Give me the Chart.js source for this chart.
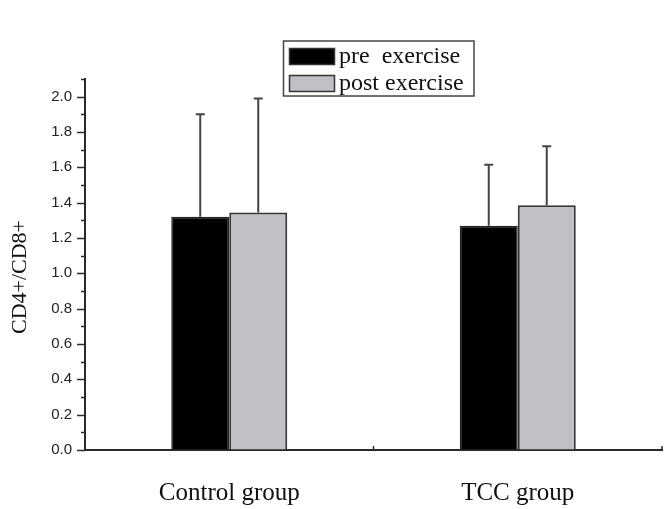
<!DOCTYPE html>
<html>
<head>
<meta charset="utf-8">
<script src="https://cdn.jsdelivr.net/npm/chart.js@4"></script>
<style>
  body { margin: 0; background: #ffffff; }
  #wrap { width: 667px; height: 509px; }
</style>
</head>
<body>
<div id="wrap"><canvas id="myChart" width="667" height="509"></canvas></div>
<script>
// data
var groups = ["Control group", "TCC group"];
var seriesNames = ["pre  exercise", "post exercise"];
var yTitle = "CD4+/CD8+";
var preVals = [1.32, 1.27];
var postVals = [1.345, 1.385];
var preErrTop = [1.90, 1.615];
var postErrTop = [1.99, 1.72];
var yTicks = [0.0, 0.2, 0.4, 0.6, 0.8, 1.0, 1.2, 1.4, 1.6, 1.8, 2.0];
var yMinorTicks = [0.1, 0.3, 0.5, 0.7, 0.9, 1.1, 1.3, 1.5, 1.7, 1.9, 2.1];

var axisColor = "#2a2a2a";

// error bars, axis ticks, y title and the boxed legend
var extras = {
    id: "extras",
    afterDatasetsDraw: function (chart) {
        var ctx = chart.ctx;
        var y = chart.scales.y;
        var tops = [preErrTop, postErrTop];
        ctx.save();
        ctx.strokeStyle = "#444";
        ctx.lineWidth = 2;
        for (var i = 0; i < 2; i++) {
            var meta = chart.getDatasetMeta(i);
            meta.data.forEach(function (bar, j) {
                var yt = y.getPixelForValue(tops[i][j]);
                ctx.beginPath();
                ctx.moveTo(bar.x, bar.y);
                ctx.lineTo(bar.x, yt);
                ctx.moveTo(bar.x - 4.5, yt);
                ctx.lineTo(bar.x + 4.5, yt);
                ctx.stroke();
            });
        }
        ctx.restore();
    },
    afterDraw: function (chart) {
        var ctx = chart.ctx;
        var y = chart.scales.y;
        var x = chart.scales.x;
        var area = chart.chartArea;
        ctx.save();
        ctx.strokeStyle = axisColor;
        ctx.lineWidth = 1.5;
        // y ticks, outward
        yTicks.forEach(function (v) {
            var p = Math.round(y.getPixelForValue(v)) + 0.5;
            ctx.beginPath();
            ctx.moveTo(area.left - 8, p);
            ctx.lineTo(area.left, p);
            ctx.stroke();
        });
        yMinorTicks.forEach(function (v) {
            var p = Math.round(y.getPixelForValue(v)) + 0.5;
            ctx.beginPath();
            ctx.moveTo(area.left - 4, p);
            ctx.lineTo(area.left, p);
            ctx.stroke();
        });
        // x ticks between categories, inward
        for (var k = 1; k <= groups.length; k++) {
            var px = x.getPixelForValue(k - 0.5);
            ctx.beginPath();
            ctx.moveTo(px, area.bottom);
            ctx.lineTo(px, area.bottom - 4);
            ctx.stroke();
        }

        // y title
        ctx.save();
        ctx.translate(20, 277);
        ctx.rotate(-Math.PI / 2);
        ctx.font = "22px 'Liberation Serif', serif";
        ctx.fillStyle = "#111";
        ctx.textAlign = "center";
        ctx.textBaseline = "middle";
        ctx.fillText(yTitle, 0, 0);
        ctx.restore();

        // legend
        ctx.lineWidth = 1.5;
        ctx.strokeStyle = "#444";
        ctx.strokeRect(283.5, 41, 190.5, 55);
        var fills = ["#000000", "#c0c1c5"];
        ctx.font = "24px 'Liberation Serif', serif";
        ctx.textBaseline = "middle";
        for (var s = 0; s < 2; s++) {
            var ry = 48.5 + s * 27;
            ctx.fillStyle = fills[s];
            ctx.fillRect(289.5, ry, 45, 16);
            ctx.strokeStyle = "#333";
            ctx.strokeRect(289.5, ry, 45, 16);
            ctx.fillStyle = "#111";
            ctx.fillText(seriesNames[s], 339, ry + 8);
        }
        ctx.restore();
    }
};

new Chart("myChart", {
    type: "bar",
    data: {
        labels: groups,
        datasets: [
            {
                label: seriesNames[0],
                data: preVals,
                backgroundColor: "#000000",
                borderColor: "#222",
                borderWidth: 1.5
            },
            {
                label: seriesNames[1],
                data: postVals,
                backgroundColor: "#c0c1c5",
                borderColor: "#333",
                borderWidth: 2
            }
        ]
    },
    options: {
        responsive: false,
        animation: false,
        devicePixelRatio: 1,
        barPercentage: 1,
        categoryPercentage: 0.402,
        layout: { padding: { top: 79, right: 5, left: 0, bottom: 0 } },
        plugins: {
            legend: { display: false },
            tooltip: { enabled: false }
        },
        scales: {
            x: {
                grid: { display: true, drawOnChartArea: false, drawTicks: false },
                border: { display: true, color: axisColor, width: 2 },
                ticks: {
                    color: "#111",
                    padding: 28,
                    font: { family: "'Liberation Serif', serif", size: 25 }
                },
                afterFit: function (scale) { scale.height = 59; }
            },
            y: {
                min: 0,
                max: 2.1,
                afterBuildTicks: function (scale) {
                    scale.ticks = yTicks.map(function (v) { return { value: v }; });
                },
                grid: { display: true, drawOnChartArea: false, drawTicks: false },
                border: { display: true, color: axisColor, width: 2 },
                ticks: {
                    color: "#222",
                    padding: 13,
                    font: { family: "'Liberation Sans', Arial, sans-serif", size: 15 },
                    callback: function (v) { return Number(v).toFixed(1); }
                },
                title: { display: false },
                afterFit: function (scale) { scale.width = 85; }
            }
        }
    },
    plugins: [extras]
});
</script>
</body>
</html>
